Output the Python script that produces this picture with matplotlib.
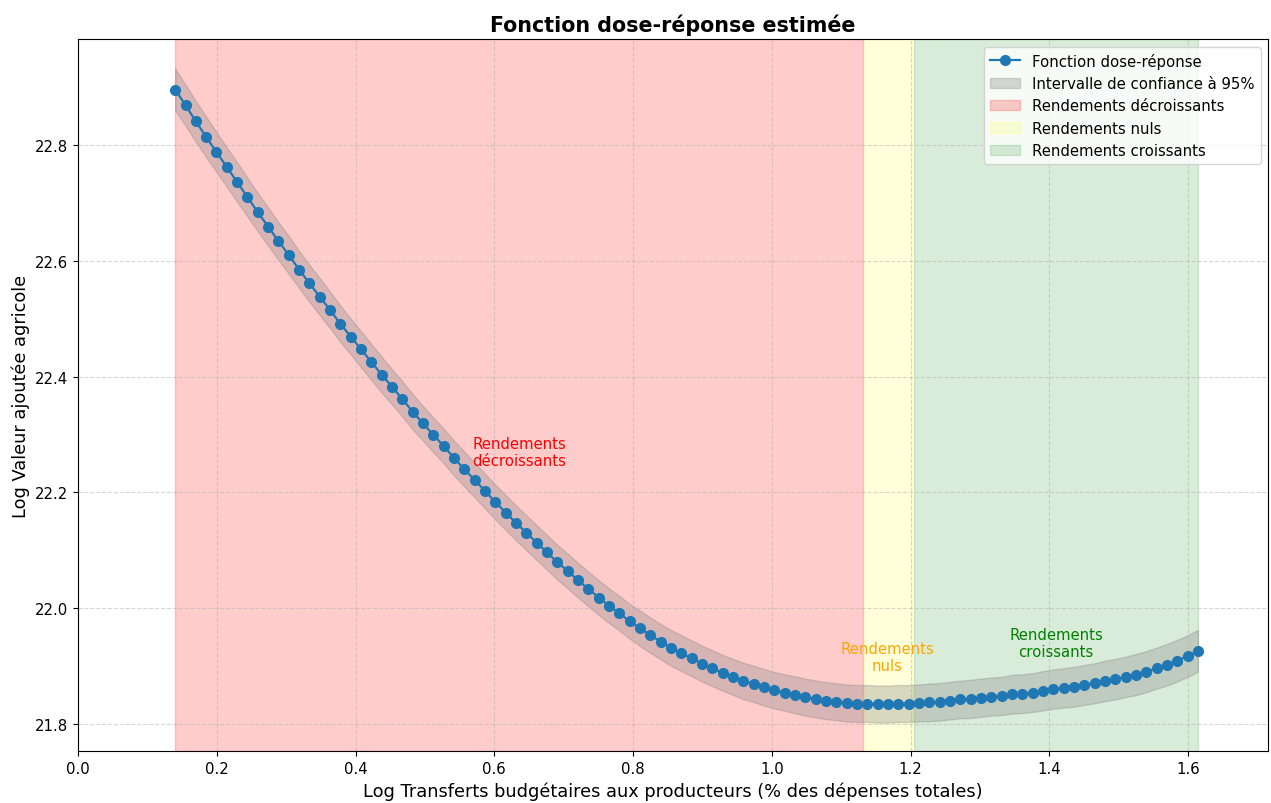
import numpy as np
import matplotlib.pyplot as plt
from matplotlib.patches import Patch
from matplotlib.lines import Line2D

# Grille de doses (log transferts), 100 points
x_min, x_max, n_points = 0.14, 1.614, 100

# Log valeur ajoutée agricole estimée
y_pred = [
    22.896, 22.869, 22.841, 22.814, 22.788, 22.762, 22.736, 22.710, 22.684, 22.659,
    22.634, 22.610, 22.585, 22.561, 22.538, 22.515, 22.491, 22.469, 22.447, 22.425,
    22.403, 22.382, 22.361, 22.339, 22.319, 22.299, 22.280, 22.259, 22.240, 22.221,
    22.202, 22.183, 22.165, 22.147, 22.130, 22.113, 22.096, 22.079, 22.064, 22.048,
    22.033, 22.018, 22.004, 21.991, 21.977, 21.965, 21.953, 21.942, 21.931, 21.922,
    21.913, 21.904, 21.896, 21.888, 21.881, 21.874, 21.869, 21.863, 21.858, 21.854,
    21.850, 21.846, 21.843, 21.840, 21.838, 21.836, 21.835, 21.835, 21.834, 21.834,
    21.835, 21.835, 21.836, 21.837, 21.838, 21.840, 21.842, 21.843, 21.845, 21.847,
    21.848, 21.851, 21.852, 21.854, 21.857, 21.860, 21.862, 21.864, 21.867, 21.870,
    21.874, 21.877, 21.881, 21.885, 21.890, 21.896, 21.902, 21.909, 21.917, 21.926,
]

# Demi-largeur de l'intervalle de confiance à 95%
ci_half = [
    0.036, 0.0355, 0.035, 0.035, 0.0345, 0.034, 0.034, 0.0335, 0.033, 0.033,
    0.0325, 0.0325, 0.032, 0.032, 0.032, 0.0315, 0.0315, 0.031, 0.031, 0.031,
    0.031, 0.0305, 0.0305, 0.0305, 0.030, 0.030, 0.030, 0.030, 0.030, 0.030,
    0.030, 0.030, 0.030, 0.030, 0.030, 0.030, 0.030, 0.030, 0.030, 0.030,
    0.030, 0.030, 0.030, 0.030, 0.030, 0.0305, 0.0305, 0.0305, 0.031, 0.031,
    0.031, 0.031, 0.031, 0.031, 0.031, 0.0315, 0.0315, 0.0315, 0.0315, 0.0315,
    0.032, 0.032, 0.032, 0.032, 0.032, 0.032, 0.032, 0.032, 0.032, 0.032,
    0.032, 0.032, 0.032, 0.0325, 0.0325, 0.0325, 0.0325, 0.033, 0.033, 0.033,
    0.033, 0.0335, 0.0335, 0.0335, 0.034, 0.034, 0.034, 0.0345, 0.0345, 0.0345,
    0.035, 0.035, 0.035, 0.0355, 0.0355, 0.0355, 0.036, 0.036, 0.036, 0.036,
]

# Zones de rendements
zone_labels = ["Rendements décroissants", "Rendements nuls", "Rendements croissants"]
zone_bounds = [(0.14, 1.131), (1.131, 1.202), (1.205, 1.614)]
zone_colors = ["red", "yellow", "green"]
zone_alpha = [0.2, 0.15, 0.15]
zone_text = ["Rendements\ndécroissants", "Rendements\nnuls", "Rendements\ncroissants"]
zone_text_colors = ["red", "orange", "green"]
zone_text_y = [22.27, 21.915, 21.94]

x = np.linspace(x_min, x_max, n_points)
y = np.array(y_pred)
h = np.array(ci_half)

fig, ax = plt.subplots(figsize=(12.71, 8.04), dpi=100)
fig.subplots_adjust(left=0.0614, right=0.9976, bottom=0.0647, top=0.950)

# Bandes de zones
for (a, b), c, al in zip(zone_bounds, zone_colors, zone_alpha):
    ax.axvspan(a, b, color=c, alpha=al)

# Intervalle de confiance
ax.fill_between(x, y - h, y + h, color="gray", alpha=0.3)

# Courbe dose-réponse
ax.plot(x, y, "o-", color="#1f77b4", lw=1.6, markersize=7)

# Annotations des zones
for (a, b), t, c, ty in zip(zone_bounds, zone_text, zone_text_colors, zone_text_y):
    ax.text((a + b) / 2, ty, t, color=c, fontsize=10.7, ha="center", va="center",
            multialignment="center")

ax.set_xlim(0, 1.715)
ax.set_ylim(21.753, 22.983)
ax.grid(True, linestyle="--", alpha=0.5)

ax.set_title("Fonction dose-réponse estimée", fontsize=14.9, fontweight="bold")
ax.set_xlabel("Log Transferts budgétaires aux producteurs (% des dépenses totales)", fontsize=12.8)
ax.set_ylabel("Log Valeur ajoutée agricole", fontsize=12.8)
ax.tick_params(labelsize=10.7)

handles = [
    Line2D([0], [0], color="#1f77b4", marker="o", lw=1.6, markersize=7),
    Patch(facecolor="gray", edgecolor="gray", alpha=0.3),
]
for c, al in zip(zone_colors, zone_alpha):
    handles.append(Patch(facecolor=c, edgecolor=c, alpha=al))
labels = ["Fonction dose-réponse", "Intervalle de confiance à 95%"] + zone_labels
ax.legend(handles, labels, loc="upper right", fontsize=10.7)

fig.savefig("out.png", dpi=100)
